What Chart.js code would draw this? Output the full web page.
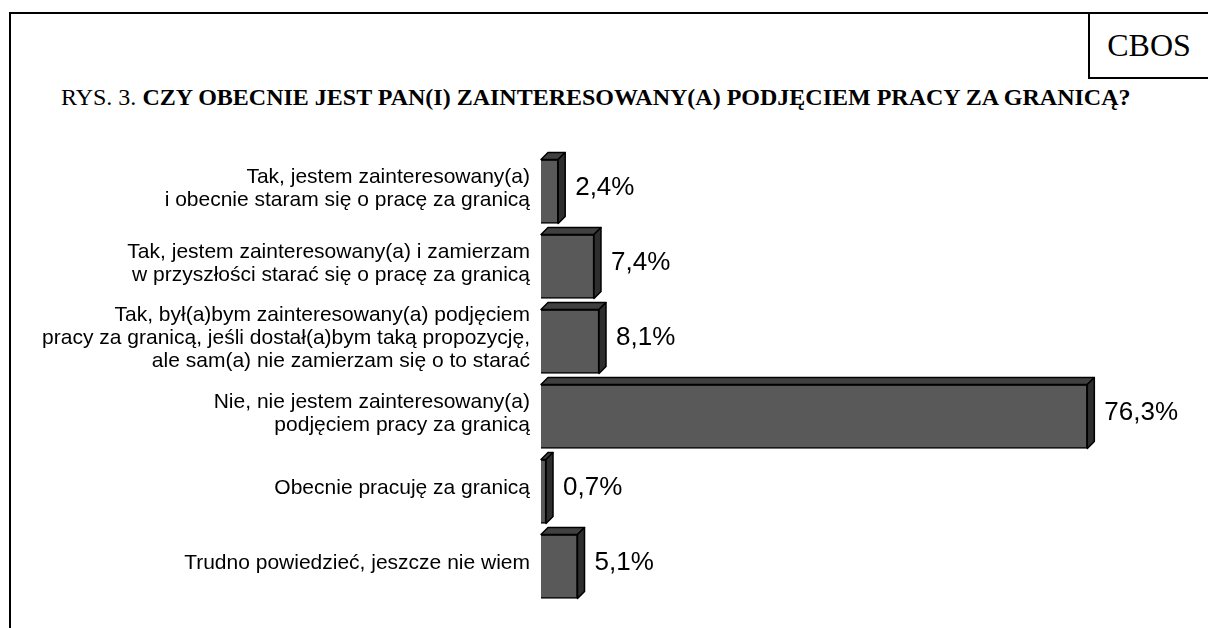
<!DOCTYPE html>
<html>
<head>
<meta charset="utf-8">
<script src="https://cdn.jsdelivr.net/npm/chart.js@4.4.1/dist/chart.umd.min.js"></script>
<style>
  html, body { margin: 0; padding: 0; background: #fff; }
  #wrap { position: relative; width: 1208px; height: 628px; overflow: hidden; }
  #frame { position: absolute; left: 9px; top: 12px; width: 1250px; height: 700px; border-left: 2px solid #000; border-top: 2px solid #000; }
  #brand { position: absolute; left: 1088px; top: 12px; width: 118px; height: 63px; border-left: 2px solid #000; border-bottom: 2px solid #000; border-top: 2px solid #000;
           font-family: "Liberation Serif", "Times New Roman", serif; font-size: 32px; line-height: 63px; text-align: center; }
  #title { position: absolute; left: 61px; top: 84px; font-family: "Liberation Serif", "Times New Roman", serif; font-size: 24px; white-space: nowrap; color: #000; }
  #title b { font-weight: bold; }
  #chartBox { position: absolute; left: 0; top: 0; width: 1208px; height: 628px; }
</style>
</head>
<body>
<div id="wrap">
  <div id="frame"></div>
  <div id="brand">CBOS</div>
  <div id="title">RYS. 3. <b>CZY OBECNIE JEST PAN(I) ZAINTERESOWANY(A) PODJĘCIEM PRACY ZA GRANICĄ?</b></div>
  <div id="chartBox"><canvas id="answersChart" width="1208" height="628"></canvas></div>
</div>
<script>
const answerLabels = [
    ["Tak, jestem zainteresowany(a)", "i obecnie staram się o pracę za granicą"],
    ["Tak, jestem zainteresowany(a) i zamierzam", "w przyszłości starać się o pracę za granicą"],
    ["Tak, był(a)bym zainteresowany(a) podjęciem", "pracy za granicą, jeśli dostał(a)bym taką propozycję,", "ale sam(a) nie zamierzam się o to starać"],
    ["Nie, nie jestem zainteresowany(a)", "podjęciem pracy za granicą"],
    ["Obecnie pracuję za granicą"],
    ["Trudno powiedzieć, jeszcze nie wiem"]
];
const answerShares = [2.4, 7.4, 8.1, 76.3, 0.7, 5.1];
const shareLabels = ["2,4%", "7,4%", "8,1%", "76,3%", "0,7%", "5,1%"];

// faux 3D: top and side faces drawn onto each bar, then the percentage text
const depthBars = {
    id: "depthBars",
    afterDatasetsDraw(chart) {
        const ctx = chart.ctx;
        const d = 7;
        const meta = chart.getDatasetMeta(0);
        ctx.save();
        ctx.lineWidth = 1.5;
        ctx.strokeStyle = "#000";
        ctx.lineJoin = "round";
        meta.data.forEach((bar, i) => {
            const left = bar.base;
            const right = bar.x;
            const top = bar.y - bar.height / 2;
            const bottom = bar.y + bar.height / 2;
            ctx.fillStyle = "#404040";
            ctx.beginPath();
            ctx.moveTo(left, top);
            ctx.lineTo(left + d, top - d);
            ctx.lineTo(right + d, top - d);
            ctx.lineTo(right, top);
            ctx.closePath();
            ctx.fill();
            ctx.stroke();
            ctx.fillStyle = "#2e2e2e";
            ctx.beginPath();
            ctx.moveTo(right, top);
            ctx.lineTo(right + d, top - d);
            ctx.lineTo(right + d, bottom - d);
            ctx.lineTo(right, bottom);
            ctx.closePath();
            ctx.fill();
            ctx.stroke();
            ctx.fillStyle = "#000";
            ctx.font = "26px 'Liberation Sans', Arial, sans-serif";
            ctx.textAlign = "left";
            ctx.textBaseline = "middle";
            ctx.fillText(shareLabels[i], right + d + 10, bar.y - 4);
        });
        ctx.restore();
    }
};

new Chart(document.getElementById("answersChart"), {
    type: "bar",
    data: {
        labels: answerLabels,
        datasets: [{
            data: answerShares,
            backgroundColor: "#595959",
            borderColor: "#000",
            borderWidth: 1.5,
            barThickness: 64
        }]
    },
    options: {
        indexAxis: "y",
        responsive: false,
        animation: false,
        layout: { padding: { left: 0, right: 48, top: 154, bottom: 24 } },
        plugins: { legend: { display: false }, tooltip: { enabled: false } },
        scales: {
            x: { min: 0, max: 86.45, display: false },
            y: {
                grid: { display: false },
                border: { display: false },
                afterFit(scale) {
                    scale.width = 541;
                    scale.paddingTop = 0;
                    scale.paddingBottom = 0;
                },
                ticks: {
                    padding: 3,
                    labelOffset: -3,
                    color: "#000",
                    font: { family: "'Liberation Sans', Arial, sans-serif", size: 21, lineHeight: 1.1 }
                }
            }
        }
    },
    plugins: [depthBars]
});
</script>
</body>
</html>
